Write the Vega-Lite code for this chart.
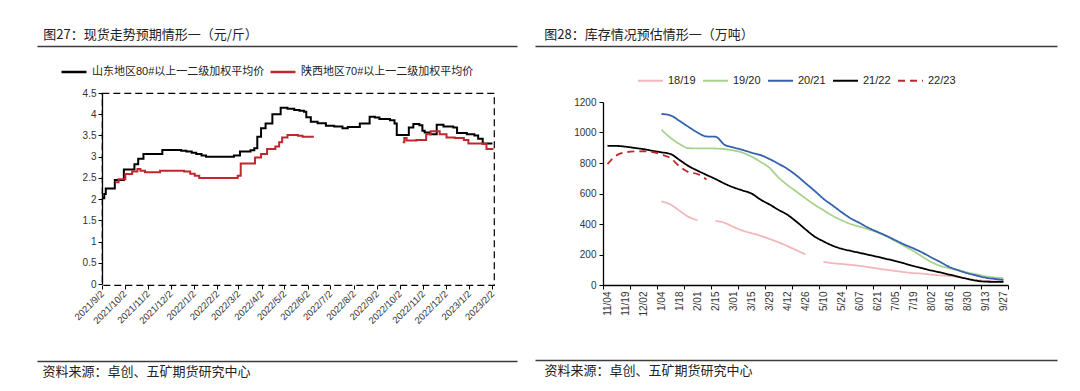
{
"$schema": "https://vega.github.io/schema/vega-lite/v6.json",
"padding": {"left": 33, "top": 28, "right": 5, "bottom": 5},
"background": "white",
"spacing": -51,
"resolve": {"scale": {"color": "independent", "strokeDash": "independent"}, "legend": {"color": "independent", "strokeDash": "independent"}},
"datasets": {
"left": [
{"d":"2021/09/02","s":"山东地区80#以上一二级加权平均价","g":1,"v":2.02},
{"d":"2021/09/05","s":"山东地区80#以上一二级加权平均价","g":1,"v":2.12},
{"d":"2021/09/07","s":"山东地区80#以上一二级加权平均价","g":1,"v":2.25},
{"d":"2021/09/19","s":"山东地区80#以上一二级加权平均价","g":1,"v":2.45},
{"d":"2021/10/01","s":"山东地区80#以上一二级加权平均价","g":1,"v":2.70},
{"d":"2021/10/15","s":"山东地区80#以上一二级加权平均价","g":1,"v":2.82},
{"d":"2021/10/20","s":"山东地区80#以上一二级加权平均价","g":1,"v":2.95},
{"d":"2021/10/27","s":"山东地区80#以上一二级加权平均价","g":1,"v":3.06},
{"d":"2021/11/21","s":"山东地区80#以上一二级加权平均价","g":1,"v":3.16},
{"d":"2021/12/16","s":"山东地区80#以上一二级加权平均价","g":1,"v":3.14},
{"d":"2021/12/23","s":"山东地区80#以上一二级加权平均价","g":1,"v":3.12},
{"d":"2021/12/30","s":"山东地区80#以上一二级加权平均价","g":1,"v":3.09},
{"d":"2022/01/05","s":"山东地区80#以上一二级加权平均价","g":1,"v":3.06},
{"d":"2022/01/12","s":"山东地区80#以上一二级加权平均价","g":1,"v":3.03},
{"d":"2022/01/18","s":"山东地区80#以上一二级加权平均价","g":1,"v":3.00},
{"d":"2022/02/24","s":"山东地区80#以上一二级加权平均价","g":1,"v":3.03},
{"d":"2022/03/04","s":"山东地区80#以上一二级加权平均价","g":1,"v":3.12},
{"d":"2022/03/18","s":"山东地区80#以上一二级加权平均价","g":1,"v":3.15},
{"d":"2022/03/23","s":"山东地区80#以上一二级加权平均价","g":1,"v":3.20},
{"d":"2022/03/27","s":"山东地区80#以上一二级加权平均价","g":1,"v":3.47},
{"d":"2022/04/01","s":"山东地区80#以上一二级加权平均价","g":1,"v":3.67},
{"d":"2022/04/07","s":"山东地区80#以上一二级加权平均价","g":1,"v":3.78},
{"d":"2022/04/16","s":"山东地区80#以上一二级加权平均价","g":1,"v":4.00},
{"d":"2022/04/27","s":"山东地区80#以上一二级加权平均价","g":1,"v":4.15},
{"d":"2022/05/06","s":"山东地区80#以上一二级加权平均价","g":1,"v":4.13},
{"d":"2022/05/15","s":"山东地区80#以上一二级加权平均价","g":1,"v":4.10},
{"d":"2022/05/22","s":"山东地区80#以上一二级加权平均价","g":1,"v":4.08},
{"d":"2022/05/28","s":"山东地区80#以上一二级加权平均价","g":1,"v":4.06},
{"d":"2022/05/31","s":"山东地区80#以上一二级加权平均价","g":1,"v":3.93},
{"d":"2022/06/06","s":"山东地区80#以上一二级加权平均价","g":1,"v":3.82},
{"d":"2022/06/15","s":"山东地区80#以上一二级加权平均价","g":1,"v":3.79},
{"d":"2022/06/26","s":"山东地区80#以上一二级加权平均价","g":1,"v":3.73},
{"d":"2022/07/07","s":"山东地区80#以上一二级加权平均价","g":1,"v":3.71},
{"d":"2022/07/18","s":"山东地区80#以上一二级加权平均价","g":1,"v":3.67},
{"d":"2022/07/25","s":"山东地区80#以上一二级加权平均价","g":1,"v":3.70},
{"d":"2022/08/10","s":"山东地区80#以上一二级加权平均价","g":1,"v":3.78},
{"d":"2022/08/23","s":"山东地区80#以上一二级加权平均价","g":1,"v":3.94},
{"d":"2022/08/30","s":"山东地区80#以上一二级加权平均价","g":1,"v":3.92},
{"d":"2022/09/05","s":"山东地区80#以上一二级加权平均价","g":1,"v":3.89},
{"d":"2022/09/19","s":"山东地区80#以上一二级加权平均价","g":1,"v":3.86},
{"d":"2022/09/25","s":"山东地区80#以上一二级加权平均价","g":1,"v":3.78},
{"d":"2022/09/28","s":"山东地区80#以上一二级加权平均价","g":1,"v":3.51},
{"d":"2022/10/14","s":"山东地区80#以上一二级加权平均价","g":1,"v":3.69},
{"d":"2022/10/20","s":"山东地区80#以上一二级加权平均价","g":1,"v":3.77},
{"d":"2022/10/28","s":"山东地区80#以上一二级加权平均价","g":1,"v":3.74},
{"d":"2022/11/01","s":"山东地区80#以上一二级加权平均价","g":1,"v":3.61},
{"d":"2022/11/04","s":"山东地区80#以上一二级加权平均价","g":1,"v":3.57},
{"d":"2022/11/11","s":"山东地区80#以上一二级加权平均价","g":1,"v":3.53},
{"d":"2022/11/20","s":"山东地区80#以上一二级加权平均价","g":1,"v":3.75},
{"d":"2022/11/29","s":"山东地区80#以上一二级加权平均价","g":1,"v":3.71},
{"d":"2022/12/12","s":"山东地区80#以上一二级加权平均价","g":1,"v":3.69},
{"d":"2022/12/17","s":"山东地区80#以上一二级加权平均价","g":1,"v":3.56},
{"d":"2022/12/30","s":"山东地区80#以上一二级加权平均价","g":1,"v":3.53},
{"d":"2023/01/09","s":"山东地区80#以上一二级加权平均价","g":1,"v":3.50},
{"d":"2023/01/14","s":"山东地区80#以上一二级加权平均价","g":1,"v":3.42},
{"d":"2023/01/20","s":"山东地区80#以上一二级加权平均价","g":1,"v":3.31},
{"d":"2023/02/02","s":"山东地区80#以上一二级加权平均价","g":1,"v":3.31},
{"d":"2021/09/19","s":"陕西地区70#以上一二级加权平均价","g":1,"v":2.40},
{"d":"2021/09/24","s":"陕西地区70#以上一二级加权平均价","g":1,"v":2.47},
{"d":"2021/10/03","s":"陕西地区70#以上一二级加权平均价","g":1,"v":2.59},
{"d":"2021/10/12","s":"陕西地区70#以上一二级加权平均价","g":1,"v":2.65},
{"d":"2021/10/19","s":"陕西地区70#以上一二级加权平均价","g":1,"v":2.71},
{"d":"2021/10/23","s":"陕西地区70#以上一二级加权平均价","g":1,"v":2.67},
{"d":"2021/10/29","s":"陕西地区70#以上一二级加权平均价","g":1,"v":2.63},
{"d":"2021/11/18","s":"陕西地区70#以上一二级加权平均价","g":1,"v":2.67},
{"d":"2021/12/20","s":"陕西地区70#以上一二级加权平均价","g":1,"v":2.65},
{"d":"2021/12/28","s":"陕西地区70#以上一二级加权平均价","g":1,"v":2.60},
{"d":"2022/01/03","s":"陕西地区70#以上一二级加权平均价","g":1,"v":2.55},
{"d":"2022/01/09","s":"陕西地区70#以上一二级加权平均价","g":1,"v":2.50},
{"d":"2022/03/01","s":"陕西地区70#以上一二级加权平均价","g":1,"v":2.55},
{"d":"2022/03/05","s":"陕西地区70#以上一二级加权平均价","g":1,"v":2.84},
{"d":"2022/03/24","s":"陕西地区70#以上一二级加权平均价","g":1,"v":2.98},
{"d":"2022/04/01","s":"陕西地区70#以上一二级加权平均价","g":1,"v":3.06},
{"d":"2022/04/09","s":"陕西地区70#以上一二级加权平均价","g":1,"v":3.18},
{"d":"2022/04/20","s":"陕西地区70#以上一二级加权平均价","g":1,"v":3.24},
{"d":"2022/04/25","s":"陕西地区70#以上一二级加权平均价","g":1,"v":3.34},
{"d":"2022/04/29","s":"陕西地区70#以上一二级加权平均价","g":1,"v":3.45},
{"d":"2022/05/06","s":"陕西地区70#以上一二级加权平均价","g":1,"v":3.51},
{"d":"2022/05/20","s":"陕西地区70#以上一二级加权平均价","g":1,"v":3.49},
{"d":"2022/05/26","s":"陕西地区70#以上一二级加权平均价","g":1,"v":3.47},
{"d":"2022/06/10","s":"陕西地区70#以上一二级加权平均价","g":1,"v":3.47},
{"d":"2022/10/06","s":"陕西地区70#以上一二级加权平均价","g":2,"v":3.34},
{"d":"2022/10/08","s":"陕西地区70#以上一二级加权平均价","g":2,"v":3.44},
{"d":"2022/10/11","s":"陕西地区70#以上一二级加权平均价","g":2,"v":3.38},
{"d":"2022/10/24","s":"陕西地区70#以上一二级加权平均价","g":2,"v":3.39},
{"d":"2022/11/06","s":"陕西地区70#以上一二级加权平均价","g":2,"v":3.53},
{"d":"2022/11/12","s":"陕西地区70#以上一二级加权平均价","g":2,"v":3.60},
{"d":"2022/11/24","s":"陕西地区70#以上一二级加权平均价","g":2,"v":3.53},
{"d":"2022/12/03","s":"陕西地区70#以上一二级加权平均价","g":2,"v":3.45},
{"d":"2022/12/14","s":"陕西地区70#以上一二级加权平均价","g":2,"v":3.44},
{"d":"2022/12/26","s":"陕西地区70#以上一二级加权平均价","g":2,"v":3.39},
{"d":"2023/01/01","s":"陕西地区70#以上一二级加权平均价","g":2,"v":3.31},
{"d":"2023/01/20","s":"陕西地区70#以上一二级加权平均价","g":2,"v":3.30},
{"d":"2023/01/25","s":"陕西地区70#以上一二级加权平均价","g":2,"v":3.18},
{"d":"2023/02/02","s":"陕西地区70#以上一二级加权平均价","g":2,"v":3.16}
],
"right": [
{"w":6,"s":"18/19","g":1,"v":548},{"w":7,"s":"18/19","g":1,"v":528},{"w":8,"s":"18/19","g":1,"v":487},{"w":9,"s":"18/19","g":1,"v":447},{"w":10,"s":"18/19","g":1,"v":426},
{"w":12,"s":"18/19","g":2,"v":420},{"w":13,"s":"18/19","g":2,"v":408},{"w":14,"s":"18/19","g":2,"v":381},{"w":15,"s":"18/19","g":2,"v":357},{"w":16,"s":"18/19","g":2,"v":340},{"w":17,"s":"18/19","g":2,"v":323},{"w":18,"s":"18/19","g":2,"v":302},{"w":19,"s":"18/19","g":2,"v":280},{"w":20,"s":"18/19","g":2,"v":255},{"w":21,"s":"18/19","g":2,"v":228},{"w":22,"s":"18/19","g":2,"v":200},
{"w":24,"s":"18/19","g":3,"v":152},{"w":25,"s":"18/19","g":3,"v":143},{"w":26,"s":"18/19","g":3,"v":138},{"w":27,"s":"18/19","g":3,"v":132},{"w":28,"s":"18/19","g":3,"v":126},{"w":29,"s":"18/19","g":3,"v":117},{"w":30,"s":"18/19","g":3,"v":108},{"w":31,"s":"18/19","g":3,"v":100},{"w":32,"s":"18/19","g":3,"v":92},{"w":33,"s":"18/19","g":3,"v":84},{"w":34,"s":"18/19","g":3,"v":78},{"w":35,"s":"18/19","g":3,"v":74},{"w":36,"s":"18/19","g":3,"v":68},{"w":37,"s":"18/19","g":3,"v":63},{"w":38,"s":"18/19","g":3,"v":59},{"w":39,"s":"18/19","g":3,"v":52},{"w":40,"s":"18/19","g":3,"v":42},{"w":41,"s":"18/19","g":3,"v":33},{"w":42,"s":"18/19","g":3,"v":27},{"w":43,"s":"18/19","g":3,"v":24},{"w":44,"s":"18/19","g":3,"v":24},
{"w":6,"s":"19/20","g":1,"v":1018},{"w":7,"s":"19/20","g":1,"v":965},{"w":8,"s":"19/20","g":1,"v":925},{"w":9,"s":"19/20","g":1,"v":897},{"w":10,"s":"19/20","g":1,"v":896},{"w":11,"s":"19/20","g":1,"v":896},{"w":12,"s":"19/20","g":1,"v":895},{"w":13,"s":"19/20","g":1,"v":891},{"w":14,"s":"19/20","g":1,"v":882},{"w":15,"s":"19/20","g":1,"v":868},{"w":16,"s":"19/20","g":1,"v":842},{"w":17,"s":"19/20","g":1,"v":808},{"w":18,"s":"19/20","g":1,"v":768},{"w":19,"s":"19/20","g":1,"v":705},{"w":20,"s":"19/20","g":1,"v":655},{"w":21,"s":"19/20","g":1,"v":612},{"w":22,"s":"19/20","g":1,"v":568},{"w":23,"s":"19/20","g":1,"v":527},{"w":24,"s":"19/20","g":1,"v":490},{"w":25,"s":"19/20","g":1,"v":454},{"w":26,"s":"19/20","g":1,"v":425},{"w":27,"s":"19/20","g":1,"v":400},{"w":28,"s":"19/20","g":1,"v":383},{"w":29,"s":"19/20","g":1,"v":365},{"w":30,"s":"19/20","g":1,"v":345},{"w":31,"s":"19/20","g":1,"v":320},{"w":32,"s":"19/20","g":1,"v":288},{"w":33,"s":"19/20","g":1,"v":255},{"w":34,"s":"19/20","g":1,"v":222},{"w":35,"s":"19/20","g":1,"v":185},{"w":36,"s":"19/20","g":1,"v":150},{"w":37,"s":"19/20","g":1,"v":125},{"w":38,"s":"19/20","g":1,"v":110},{"w":39,"s":"19/20","g":1,"v":97},{"w":40,"s":"19/20","g":1,"v":82},{"w":41,"s":"19/20","g":1,"v":70},{"w":42,"s":"19/20","g":1,"v":58},{"w":43,"s":"19/20","g":1,"v":50},{"w":44,"s":"19/20","g":1,"v":45},
{"w":6,"s":"20/21","g":1,"v":1122},{"w":7,"s":"20/21","g":1,"v":1112},{"w":8,"s":"20/21","g":1,"v":1076},{"w":9,"s":"20/21","g":1,"v":1037},{"w":10,"s":"20/21","g":1,"v":1000},{"w":11,"s":"20/21","g":1,"v":974},{"w":12,"s":"20/21","g":1,"v":972},{"w":13,"s":"20/21","g":1,"v":920},{"w":14,"s":"20/21","g":1,"v":902},{"w":15,"s":"20/21","g":1,"v":886},{"w":16,"s":"20/21","g":1,"v":868},{"w":17,"s":"20/21","g":1,"v":852},{"w":18,"s":"20/21","g":1,"v":826},{"w":19,"s":"20/21","g":1,"v":795},{"w":20,"s":"20/21","g":1,"v":761},{"w":21,"s":"20/21","g":1,"v":718},{"w":22,"s":"20/21","g":1,"v":668},{"w":23,"s":"20/21","g":1,"v":618},{"w":24,"s":"20/21","g":1,"v":565},{"w":25,"s":"20/21","g":1,"v":522},{"w":26,"s":"20/21","g":1,"v":478},{"w":27,"s":"20/21","g":1,"v":438},{"w":28,"s":"20/21","g":1,"v":407},{"w":29,"s":"20/21","g":1,"v":375},{"w":30,"s":"20/21","g":1,"v":348},{"w":31,"s":"20/21","g":1,"v":322},{"w":32,"s":"20/21","g":1,"v":293},{"w":33,"s":"20/21","g":1,"v":265},{"w":34,"s":"20/21","g":1,"v":240},{"w":35,"s":"20/21","g":1,"v":212},{"w":36,"s":"20/21","g":1,"v":180},{"w":37,"s":"20/21","g":1,"v":150},{"w":38,"s":"20/21","g":1,"v":118},{"w":39,"s":"20/21","g":1,"v":96},{"w":40,"s":"20/21","g":1,"v":77},{"w":41,"s":"20/21","g":1,"v":62},{"w":42,"s":"20/21","g":1,"v":48},{"w":43,"s":"20/21","g":1,"v":40},{"w":44,"s":"20/21","g":1,"v":33},
{"w":0,"s":"21/22","g":1,"v":913},{"w":1,"s":"21/22","g":1,"v":912},{"w":2,"s":"21/22","g":1,"v":907},{"w":3,"s":"21/22","g":1,"v":899},{"w":4,"s":"21/22","g":1,"v":891},{"w":5,"s":"21/22","g":1,"v":880},{"w":6,"s":"21/22","g":1,"v":870},{"w":7,"s":"21/22","g":1,"v":859},{"w":8,"s":"21/22","g":1,"v":820},{"w":9,"s":"21/22","g":1,"v":780},{"w":10,"s":"21/22","g":1,"v":750},{"w":11,"s":"21/22","g":1,"v":722},{"w":12,"s":"21/22","g":1,"v":695},{"w":13,"s":"21/22","g":1,"v":665},{"w":14,"s":"21/22","g":1,"v":640},{"w":15,"s":"21/22","g":1,"v":620},{"w":16,"s":"21/22","g":1,"v":600},{"w":17,"s":"21/22","g":1,"v":560},{"w":18,"s":"21/22","g":1,"v":528},{"w":19,"s":"21/22","g":1,"v":493},{"w":20,"s":"21/22","g":1,"v":460},{"w":21,"s":"21/22","g":1,"v":415},{"w":22,"s":"21/22","g":1,"v":365},{"w":23,"s":"21/22","g":1,"v":318},{"w":24,"s":"21/22","g":1,"v":286},{"w":25,"s":"21/22","g":1,"v":258},{"w":26,"s":"21/22","g":1,"v":238},{"w":27,"s":"21/22","g":1,"v":224},{"w":28,"s":"21/22","g":1,"v":211},{"w":29,"s":"21/22","g":1,"v":198},{"w":30,"s":"21/22","g":1,"v":185},{"w":31,"s":"21/22","g":1,"v":171},{"w":32,"s":"21/22","g":1,"v":157},{"w":33,"s":"21/22","g":1,"v":141},{"w":34,"s":"21/22","g":1,"v":124},{"w":35,"s":"21/22","g":1,"v":110},{"w":36,"s":"21/22","g":1,"v":95},{"w":37,"s":"21/22","g":1,"v":82},{"w":38,"s":"21/22","g":1,"v":68},{"w":39,"s":"21/22","g":1,"v":54},{"w":40,"s":"21/22","g":1,"v":40},{"w":41,"s":"21/22","g":1,"v":28},{"w":42,"s":"21/22","g":1,"v":22},{"w":43,"s":"21/22","g":1,"v":21},{"w":44,"s":"21/22","g":1,"v":21},
{"w":0,"s":"22/23","g":1,"v":793},{"w":1,"s":"22/23","g":1,"v":850},{"w":2,"s":"22/23","g":1,"v":870},{"w":3,"s":"22/23","g":1,"v":876},{"w":4,"s":"22/23","g":1,"v":877},{"w":5,"s":"22/23","g":1,"v":872},{"w":6,"s":"22/23","g":1,"v":855},{"w":7,"s":"22/23","g":1,"v":832},{"w":8,"s":"22/23","g":1,"v":778},{"w":9,"s":"22/23","g":1,"v":740},{"w":10,"s":"22/23","g":1,"v":728},{"w":11,"s":"22/23","g":1,"v":692}
]
},
"hconcat": [
{
"width": 392, "height": 192,
"title": {"text": "图27：现货走势预期情形一（元/斤）", "anchor": "start", "frame": "bounds", "dx": 9, "offset": 4, "fontSize": 13, "font": "Noto Sans CJK SC", "fontWeight": "normal", "color": "#222222"},
"view": {"stroke": "#000000", "strokeDash": [7, 4], "strokeWidth": 1.2},
"data": {"name": "left"},
"encoding": {
"y": {"field": "v", "type": "quantitative", "scale": {"domain": [0, 4.5], "nice": false, "range": [191, 0]},
"axis": {"title": null, "values": [0, 0.5, 1, 1.5, 2, 2.5, 3, 3.5, 4, 4.5], "format": ".1~f", "labelFontSize": 10, "domain": true, "domainColor": "#000000", "domainWidth": 1.3, "tickSize": 4, "tickColor": "#000000", "grid": false, "labelPadding": 2}}
},
"layer": [
{
"mark": {"type": "line", "interpolate": "step-after", "strokeWidth": 2},
"encoding": {
"x": {"field": "d", "type": "temporal",
"scale": {"domain": [{"year": 2021, "month": 9, "date": 2}, {"year": 2023, "month": 2, "date": 4}]},
"axis": {"orient": "bottom", "title": null, "format": "%Y/%-m/%-d", "labelAngle": -45, "labelAlign": "right", "labelBaseline": "middle", "labelPadding": 3, "labelFontSize": 9.5, "labelFlush": false, "labelOverlap": false, "labelBound": false, "domain": false, "ticks": true, "tickSize": 4, "tickColor": "#000000", "grid": false,
"values": [{"year":2021,"month":9,"date":2},{"year":2021,"month":10,"date":2},{"year":2021,"month":11,"date":2},{"year":2021,"month":12,"date":2},{"year":2022,"month":1,"date":2},{"year":2022,"month":2,"date":2},{"year":2022,"month":3,"date":2},{"year":2022,"month":4,"date":2},{"year":2022,"month":5,"date":2},{"year":2022,"month":6,"date":2},{"year":2022,"month":7,"date":2},{"year":2022,"month":8,"date":2},{"year":2022,"month":9,"date":2},{"year":2022,"month":10,"date":2},{"year":2022,"month":11,"date":2},{"year":2022,"month":12,"date":2},{"year":2023,"month":1,"date":2},{"year":2023,"month":2,"date":2}]}},
"color": {"field": "s", "type": "nominal",
"scale": {"domain": ["山东地区80#以上一二级加权平均价", "陕西地区70#以上一二级加权平均价"], "range": ["#000000", "#c0282d"]},
"legend": {"title": null, "orient": "none", "legendX": -42, "legendY": -35, "direction": "horizontal", "symbolType": "stroke", "symbolSize": 625, "symbolStrokeWidth": 2.5, "labelFontSize": 11, "labelFont": "Liberation Sans, Noto Sans CJK SC", "labelColor": "#222222", "labelOffset": 4, "columnPadding": 0, "padding": 0, "labelLimit": 300}},
"detail": {"field": "g", "type": "nominal"}
}
},
{
"mark": {"type": "point", "opacity": 0},
"encoding": {"x": {"field": "d", "type": "temporal", "scale": {"range": [-65, 415]},
"axis": {"orient": "top", "offset": 47, "labels": false, "ticks": false, "grid": false, "title": null, "domain": true, "domainColor": "#3c3c3c", "domainWidth": 1.5}}}
},
{
"mark": {"type": "point", "opacity": 0},
"encoding": {"x": {"field": "d", "type": "temporal", "scale": {"range": [-65, 415]},
"axis": {"orient": "bottom", "offset": 76, "labels": false, "ticks": false, "grid": false, "domain": true, "domainColor": "#3c3c3c", "domainWidth": 1.5,
"title": "资料来源：卓创、五矿期货研究中心", "titleX": -60, "titleY": 4, "titleAlign": "left", "titleBaseline": "top", "titleFontSize": 13, "titleFontWeight": "normal", "titleFont": "Noto Sans CJK SC", "titleColor": "#222222"}}}
}
],
"resolve": {"scale": {"x": "independent"}, "axis": {"x": "independent"}}
},
{
"width": 405, "height": 192,
"title": {"text": "图28：库存情况预估情形一（万吨）", "anchor": "start", "frame": "bounds", "dx": 12, "offset": 4, "fontSize": 13, "font": "Noto Sans CJK SC", "fontWeight": "normal", "color": "#222222"},
"data": {"name": "right"},
"encoding": {
"y": {"field": "v", "type": "quantitative", "scale": {"domain": [0, 1200], "range": [192, 9], "nice": false},
"axis": {"title": null, "values": [0, 200, 400, 600, 800, 1000, 1200], "format": "d", "labelFontSize": 10, "domain": true, "domainColor": "#000000", "domainWidth": 1.3, "tickSize": 4, "tickColor": "#000000", "grid": false, "labelPadding": 3}}
},
"layer": [
{
"mark": {"type": "line", "interpolate": "monotone", "strokeWidth": 1.8},
"encoding": {
"x": {"field": "w", "type": "quantitative", "scale": {"domain": [-0.5, 44.5], "nice": false, "zero": false},
"axis": {"orient": "bottom", "title": null, "values": [0,2,4,6,8,10,12,14,16,18,20,22,24,26,28,30,32,34,36,38,40,42,44],
"labelExpr": "['11/04','11/19','12/02','1/04','1/18','2/01','2/15','3/01','3/15','3/29','4/12','4/26','5/10','5/24','6/07','6/21','7/05','7/19','8/02','8/16','8/30','9/13','9/27'][round(datum.value/2)]",
"labelAngle": -90, "labelAlign": "right", "labelBaseline": "middle", "labelPadding": 6, "labelFontSize": 10, "labelFlush": false, "labelOverlap": false, "labelBound": false, "ticks": false, "domain": false, "grid": false}},
"color": {"field": "s", "type": "nominal",
"scale": {"domain": ["18/19", "19/20", "20/21", "21/22", "22/23"], "range": ["#f4b6b8", "#a9d18e", "#3462ad", "#000000", "#c0282d"]},
"legend": {"title": null, "orient": "none", "legendX": 34, "legendY": -26, "direction": "horizontal", "symbolType": "stroke", "symbolSize": 625, "symbolStrokeWidth": 2, "labelFontSize": 11, "labelFont": "Liberation Sans", "labelColor": "#222222", "labelOffset": 4, "columnPadding": 3, "padding": 0}},
"strokeDash": {"field": "s", "type": "nominal",
"scale": {"domain": ["18/19", "19/20", "20/21", "21/22", "22/23"], "range": [[1, 0], [1, 0], [1, 0], [1, 0], [7, 5]]},
"legend": {"title": null, "orient": "none", "legendX": 34, "legendY": -26, "direction": "horizontal", "symbolType": "stroke", "symbolSize": 625, "symbolStrokeWidth": 2, "labelFontSize": 11, "labelFont": "Liberation Sans", "labelColor": "#222222", "labelOffset": 4, "columnPadding": 3, "padding": 0}},
"detail": {"field": "g", "type": "nominal"}
}
},
{
"mark": {"type": "point", "opacity": 0},
"encoding": {"x": {"field": "w", "type": "quantitative", "scale": {"domain": [-0.5, 44.5], "nice": false, "zero": false},
"axis": {"orient": "bottom", "title": null, "values": [-0.5,2.5,5.5,8.5,11.5,14.5,17.5,20.5,23.5,26.5,29.5,32.5,35.5,38.5,41.5,44.5], "labels": false, "ticks": true, "tickSize": 4, "tickColor": "#000000", "domain": true, "domainColor": "#000000", "domainWidth": 1.3, "grid": false}}}
},
{
"mark": {"type": "point", "opacity": 0},
"encoding": {"x": {"field": "w", "type": "quantitative", "scale": {"range": [-68, 454]},
"axis": {"orient": "top", "offset": 47, "labels": false, "ticks": false, "grid": false, "title": null, "domain": true, "domainColor": "#3c3c3c", "domainWidth": 1.5}}}
},
{
"mark": {"type": "point", "opacity": 0},
"encoding": {"x": {"field": "w", "type": "quantitative", "scale": {"range": [-68, 454]},
"axis": {"orient": "bottom", "offset": 75, "labels": false, "ticks": false, "grid": false, "domain": true, "domainColor": "#3c3c3c", "domainWidth": 1.5,
"title": "资料来源：卓创、五矿期货研究中心", "titleX": -59, "titleY": 4, "titleAlign": "left", "titleBaseline": "top", "titleFontSize": 13, "titleFontWeight": "normal", "titleFont": "Noto Sans CJK SC", "titleColor": "#222222"}}}
}
],
"resolve": {"scale": {"x": "independent"}, "axis": {"x": "independent"}}
}
],
"config": {
"view": {"stroke": null},
"font": "Liberation Sans",
"axis": {"grid": false, "labelFont": "Liberation Sans", "labelColor": "#333333"},
"legend": {"labelFont": "Liberation Sans"}
}
}
